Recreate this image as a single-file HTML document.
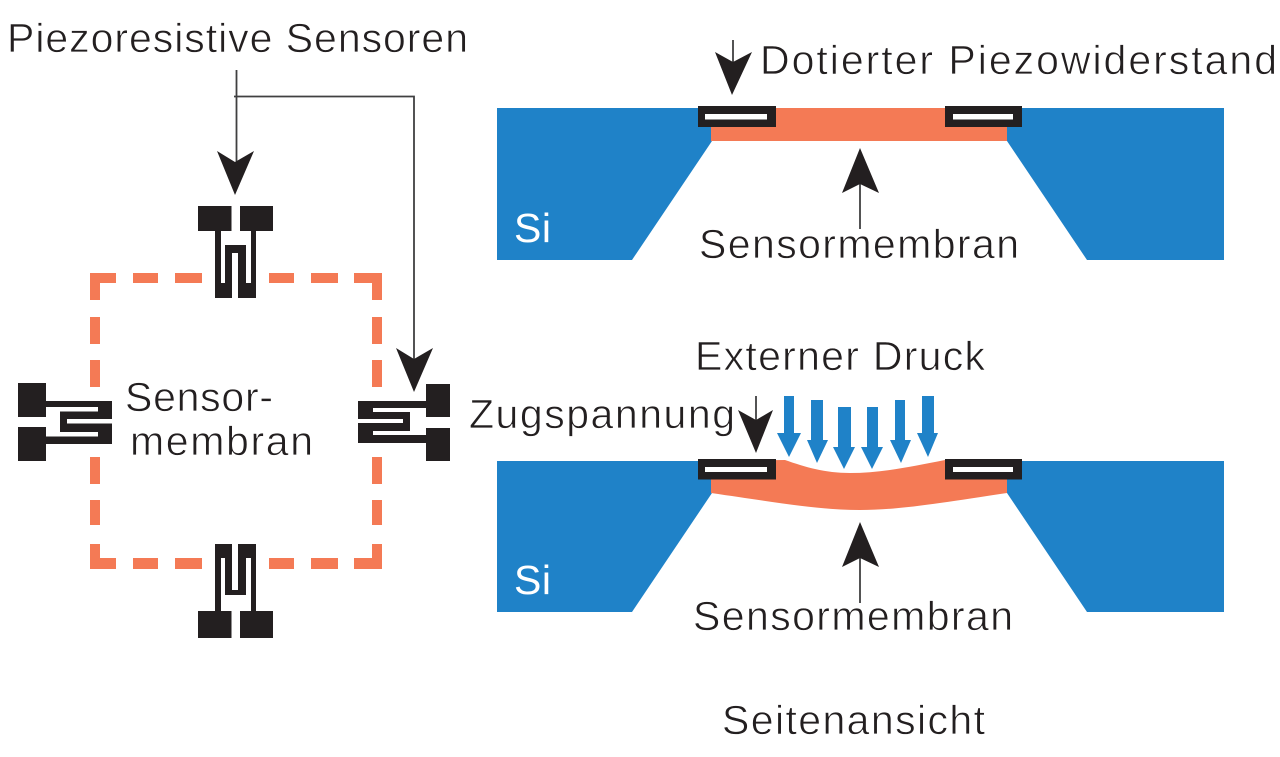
<!DOCTYPE html>
<html>
<head>
<meta charset="utf-8">
<style>
html,body{margin:0;padding:0;background:#fff;width:1280px;height:757px;overflow:hidden}
svg{display:block}
text{font-family:"Liberation Sans",sans-serif;font-size:41px;fill:#231f20;stroke:#fff;stroke-width:.7px;paint-order:fill}
text.si{fill:#fff;stroke:none}
</style>
</head>
<body>
<svg width="1280" height="757" viewBox="0 0 1280 757" xmlns="http://www.w3.org/2000/svg">
<rect width="1280" height="757" fill="#fff"/>

<!-- Top cross-section -->
<polygon points="497,108 712,108 712,141 632,260 497,260" fill="#1f82c8"/>
<polygon points="1224,108 1007,108 1007,141 1087,260 1224,260" fill="#1f82c8"/>
<rect x="711" y="108" width="296" height="33" fill="#f47a55"/>
<rect x="698" y="106" width="78" height="21" fill="#231f20"/>
<rect x="705" y="114" width="62" height="5.5" fill="#fff"/>
<rect x="945" y="106" width="77" height="21" fill="#231f20"/>
<rect x="953" y="114" width="60" height="5.5" fill="#fff"/>

<!-- Bottom cross-section -->
<polygon points="497,461 712,461 712,493 632,612 497,612" fill="#1f82c8"/>
<polygon points="1224,461 1007,461 1007,493 1087,612 1224,612" fill="#1f82c8"/>
<path d="M711,461 L785,460 C805,467 825,473 850,473 C880,473 910,467 945,460 L1007,461 L1007,493 C940,503 900,510 860,510 C820,510 780,503 711,493 Z" fill="#f47a55"/>
<rect x="698" y="459" width="78" height="20.5" fill="#231f20"/>
<rect x="705" y="467" width="62" height="5" fill="#fff"/>
<rect x="945" y="459" width="77" height="20.5" fill="#231f20"/>
<rect x="953" y="467" width="60" height="5" fill="#fff"/>

<!-- Blue pressure arrows -->
<g fill="#1f82c8">
<polygon points="784,396 794,396 794,433 801,433 789,457 777,433 784,433"/>
<polygon points="811,400 823,400 823,440 828,440 817,463 807,440 811,440"/>
<polygon points="838,407 851,407 851,447 855,447 844,469 833,447 838,447"/>
<polygon points="867,407 878,407 878,447 883,447 872,469 861,447 867,447"/>
<polygon points="895,400 905,400 905,440 911,440 901,463 890,440 895,440"/>
<polygon points="922,396 934,396 934,433 938,433 928,457 917,433 922,433"/>
</g>

<!-- Dashed membrane outline -->
<g fill="#f47a55">
<polygon points="90,273 116,273 116,283 100,283 100,300 90,300"/>
<rect x="133" y="273" width="25" height="10"/>
<rect x="175" y="273" width="27" height="10"/>
<rect x="269" y="273" width="25" height="10"/>
<rect x="311" y="273" width="27" height="10"/>
<polygon points="354,273 382,273 382,300 372,300 372,283 354,283"/>
<rect x="90" y="317" width="10" height="27"/>
<rect x="90" y="360" width="10" height="27"/>
<rect x="372" y="317" width="10" height="27"/>
<rect x="372" y="360" width="10" height="27"/>
<rect x="90" y="457" width="10" height="27"/>
<rect x="90" y="500" width="10" height="25"/>
<rect x="372" y="457" width="10" height="27"/>
<rect x="372" y="500" width="10" height="25"/>
<polygon points="90,544 100,544 100,558 116,558 116,569 90,569"/>
<rect x="133" y="558" width="25" height="11"/>
<rect x="175" y="558" width="27" height="11"/>
<rect x="269" y="558" width="25" height="11"/>
<rect x="311" y="558" width="27" height="11"/>
<polygon points="372,544 382,544 382,569 354,569 354,558 372,558"/>
</g>

<!-- Top sensor -->
<g>
<rect x="198" y="206" width="33.500" height="25" fill="#231f20"/>
<rect x="240" y="206" width="33" height="25" fill="#231f20"/>
<rect x="215" y="231" width="41" height="67" fill="#231f20"/>
<rect x="221" y="231" width="4" height="52" fill="#fff"/>
<rect x="246" y="231" width="5" height="52" fill="#fff"/>
<rect x="225" y="231" width="21" height="14" fill="#fff"/>
<rect x="232" y="253" width="6" height="45" fill="#fff"/>
</g>

<!-- Bottom sensor -->
<g>
<rect x="198" y="611" width="33.500" height="27" fill="#231f20"/>
<rect x="240" y="611" width="33" height="27" fill="#231f20"/>
<rect x="215" y="544" width="41" height="67" fill="#231f20"/>
<rect x="221" y="558" width="4" height="53" fill="#fff"/>
<rect x="246" y="558" width="5" height="53" fill="#fff"/>
<rect x="225" y="595" width="21" height="16" fill="#fff"/>
<rect x="232" y="544" width="6" height="46" fill="#fff"/>
</g>

<!-- Left sensor -->
<g>
<rect x="18" y="383" width="28" height="34" fill="#231f20"/>
<rect x="18" y="427" width="28" height="34" fill="#231f20"/>
<rect x="46" y="401" width="66" height="43" fill="#231f20"/>
<rect x="46" y="407" width="52" height="4.500" fill="#fff"/>
<rect x="46" y="432" width="52" height="4.500" fill="#fff"/>
<rect x="46" y="411" width="14" height="21" fill="#fff"/>
<rect x="67" y="419" width="45" height="4.500" fill="#fff"/>
</g>

<!-- Right sensor -->
<g>
<rect x="426" y="384" width="24" height="33" fill="#231f20"/>
<rect x="426" y="428" width="24" height="33" fill="#231f20"/>
<rect x="358" y="401" width="68" height="42" fill="#231f20"/>
<rect x="373" y="408" width="53" height="4" fill="#fff"/>
<rect x="373" y="431" width="53" height="4" fill="#fff"/>
<rect x="410" y="412" width="16" height="19" fill="#fff"/>
<rect x="358" y="419" width="45" height="4" fill="#fff"/>
</g>

<!-- Connectors and arrowheads -->
<g fill="none" stroke="#404041" stroke-width="1.800">
<line x1="236.500" y1="70" x2="236.500" y2="165"/>
<polyline points="234,96.500 414,96.500 414,360"/>
<line x1="733" y1="40" x2="733" y2="66"/>
<line x1="756" y1="396" x2="756" y2="424"/>
<line x1="860" y1="180" x2="860" y2="229"/>
<line x1="860" y1="555" x2="860" y2="603"/>
</g>
<g fill="#231f20">
<polygon points="235,195 217,151 235,162 254,151"/>
<polygon points="414,392 396,348 414,359 433,348"/>
<polygon points="732,95 715,52 733,62 752,52"/>
<polygon points="756,453 738,410 756,420 773,410"/>
<polygon points="860,148 842,193 860,184 879,193"/>
<polygon points="860,522 842,567 860,558 879,567"/>
</g>

<!-- Labels -->
<text x="7" y="52" textLength="461">Piezoresistive Sensoren</text>
<text x="760" y="74" textLength="517">Dotierter Piezowiderstand</text>
<text class="si" x="514" y="242" textLength="37">Si</text>
<text class="si" x="514" y="594" textLength="37">Si</text>
<text x="699" y="258" textLength="320">Sensormembran</text>
<text x="693" y="630" textLength="320">Sensormembran</text>
<text x="695" y="370" textLength="290">Externer Druck</text>
<text x="469" y="428" textLength="266">Zugspannung</text>
<text x="125" y="411" textLength="148">Sensor-</text>
<text x="130" y="455" textLength="183">membran</text>
<text x="722" y="734" textLength="263">Seitenansicht</text>
</svg>
</body>
</html>
